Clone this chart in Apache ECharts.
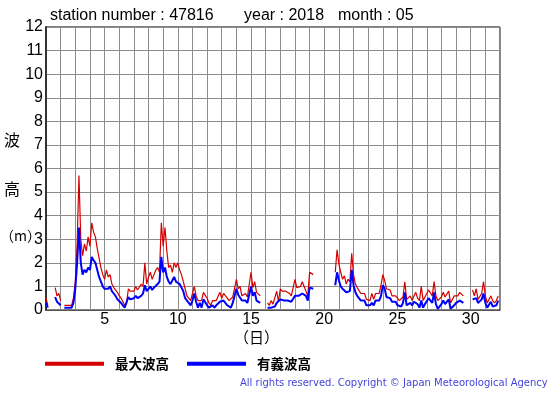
<!DOCTYPE html>
<html><head><meta charset="utf-8">
<script src="https://cdn.jsdelivr.net/npm/echarts@6/dist/echarts.min.js"></script>
<style>html,body{margin:0;padding:0;background:#fff}#c{width:555px;height:395px}</style>
</head><body><div id="c"></div>
<script>
// 3-hourly samples, 8 per day, starting at day 1.000 (null = missing)
const startDay = 1;
const stepsPerDay = 8;
const maxWave = [
 0.5,0.2,null,null,null,0.95,0.6,0.7,
 0.4,null,0.2,0.15,0.2,0.15,0.2,0.5,
 1.2,2.8,5.7,3.0,2.3,2.8,2.5,3.1,
 2.7,3.7,3.3,3.1,2.6,2.2,1.8,1.5,
 1.3,1.7,1.4,1.5,1.1,0.95,1.0,0.75,
 0.6,0.5,0.35,0.2,0.3,0.9,0.8,0.85,
 0.8,1.0,0.85,0.9,1.1,1.0,2.0,1.1,
 1.4,1.6,1.3,1.5,1.7,1.8,1.6,3.7,
 2.7,3.5,2.5,1.8,1.9,1.6,2.0,1.8,
 2.0,1.7,1.5,1.2,0.9,0.6,0.55,0.4,
 0.7,1.0,0.6,0.4,0.45,0.4,0.75,0.7,
 0.5,0.3,0.2,0.4,0.35,0.4,0.45,0.75,
 0.5,0.7,0.75,0.5,0.4,0.35,0.55,0.5,
 1.3,0.9,1.0,0.6,0.65,0.7,0.55,0.6,
 1.6,0.95,1.2,0.75,0.8,0.6,null,null,
 null,0.3,0.2,0.4,0.25,0.3,0.8,0.35,
 0.9,0.8,0.75,0.8,0.8,0.7,0.6,0.65,
 1.3,0.95,0.9,1.0,1.2,1.0,0.95,0.6,
 1.6,1.55,1.5,null,null,null,null,null,
 null,null,null,null,null,null,1.6,2.55,
 1.95,1.6,1.3,1.45,1.1,1.3,1.2,2.4,
 1.5,1.1,0.95,0.9,0.7,0.75,0.7,0.45,
 0.45,0.4,0.7,0.45,0.7,0.75,0.7,1.05,
 1.5,1.25,0.9,0.95,0.85,0.6,0.65,0.6,
 0.5,0.4,0.35,0.55,1.2,0.45,0.4,0.6,
 0.4,0.6,0.75,0.5,0.4,1.0,0.4,0.55,
 0.6,0.85,0.9,0.6,1.2,0.6,0.4,0.35,
 0.55,0.75,0.55,0.5,0.8,0.3,0.35,0.6,
 0.65,0.6,0.75,0.8,0.6,null,null,null,
 null,0.85,0.6,0.9,0.45,0.5,0.7,1.2,
 0.6,0.3,0.35,0.6,0.4,0.3,0.4,0.6
];
const sigWave = [
 0.3,0.1,null,null,null,0.55,0.35,0.4,
 0.2,null,0.1,0.05,0.1,0.1,0.1,0.3,
 0.9,2.0,3.5,2.0,1.5,1.7,1.6,1.8,
 1.7,2.25,2.1,2.0,1.7,1.4,1.2,1.0,
 0.9,0.95,0.9,1.0,0.8,0.7,0.6,0.45,
 0.4,0.3,0.2,0.1,0.15,0.55,0.45,0.5,
 0.5,0.6,0.5,0.45,0.6,0.7,1.05,0.8,
 0.9,1.0,0.85,0.95,1.0,1.1,1.2,2.25,
 1.6,1.8,1.4,1.2,1.1,1.1,1.4,1.2,
 1.2,1.1,1.05,0.8,0.5,0.4,0.3,0.2,
 0.4,0.7,0.35,0.1,0.3,0.1,0.45,0.4,
 0.2,0.1,0.05,0.2,0.1,0.2,0.25,0.35,
 0.3,0.4,0.45,0.2,0.15,0.1,0.3,0.25,
 0.9,0.65,0.7,0.4,0.35,0.4,0.3,0.35,
 1.0,0.6,0.75,0.4,0.45,0.3,null,null,
 null,0.1,0.1,0.1,0.1,0.15,0.3,0.25,
 0.45,0.45,0.4,0.45,0.4,0.4,0.35,0.35,
 0.6,0.55,0.6,0.55,0.7,0.65,0.6,0.4,
 0.95,0.9,0.9,null,null,null,null,null,
 null,null,null,null,null,null,1.05,1.6,
 1.25,1.0,0.9,0.9,0.75,0.8,0.8,1.7,
 1.05,0.75,0.6,0.6,0.4,0.45,0.4,0.2,
 0.2,0.2,0.3,0.2,0.4,0.45,0.4,0.6,
 1.05,0.9,0.55,0.6,0.5,0.35,0.4,0.35,
 0.2,0.2,0.15,0.3,0.75,0.2,0.15,0.3,
 0.2,0.35,0.3,0.25,0.1,0.4,0.1,0.25,
 0.3,0.5,0.4,0.3,0.75,0.25,0.05,0.0,
 0.25,0.4,0.25,0.2,0.45,0.05,0.05,0.2,
 0.3,0.3,0.4,0.45,0.3,null,null,null,
 null,0.45,0.45,0.5,0.3,0.3,0.45,0.7,
 0.3,0.1,0.1,0.35,0.15,0.1,0.2,0.4
];
const xTickLabels = [5,10,15,20,25,30];
const yTicks = [0,1,2,3,4,5,6,7,8,9,10,11,12];

function toPairs(arr){ return arr.map((v,i)=>[startDay + i/stepsPerDay, v]); }

const chart = echarts.init(document.getElementById('c'), null, {renderer:'canvas'});
const txt = {fontFamily:'Liberation Sans, Arial, sans-serif', fill:'#000'};
chart.setOption({
  animation:false,
  backgroundColor:'#fff',
  grid:{left:46,right:55,top:27,bottom:85,show:true,borderColor:'#000',borderWidth:1},
  xAxis:{type:'value',min:1,max:32,interval:1,
    axisLine:{show:true,lineStyle:{color:'#555',width:1}},
    axisTick:{show:false},
    splitLine:{show:true,lineStyle:{color:'#8c8c8c',width:1}},
    axisLabel:{fontSize:16,margin:2,color:'#000',fontFamily:'Liberation Sans, Arial, sans-serif',
      formatter:v=> xTickLabels.indexOf(v)>=0 ? String(v) : ''}},
  yAxis:{type:'value',min:0,max:12,interval:1,
    axisLine:{show:true,lineStyle:{color:'#333',width:2}},
    axisTick:{show:false},
    splitLine:{show:true,lineStyle:{color:'#8c8c8c',width:1}},
    axisLabel:{fontSize:16,margin:3,color:'#000',fontFamily:'Liberation Sans, Arial, sans-serif',
      formatter:v=> yTicks.indexOf(v)>=0 ? String(v) : ''}},
  legend:{left:40,top:352,itemWidth:59,itemHeight:4,itemGap:18,icon:'rect',
    textStyle:{fontSize:13.5,fontWeight:'bold',color:'#000',fontFamily:'Noto Sans CJK JP',padding:[0,0,0,6]},
    data:['最大波高','有義波高']},
  series:[
    {name:'最大波高',type:'line',data:toPairs(maxWave),showSymbol:false,connectNulls:false,
      lineStyle:{color:'#d40000',width:1.2},itemStyle:{color:'#d40000'},z:2},
    {name:'有義波高',type:'line',data:toPairs(sigWave),showSymbol:false,connectNulls:false,
      lineStyle:{color:'#0000ff',width:2},itemStyle:{color:'#0000ff'},z:3}
  ],
  graphic:[
    {type:'text',left:50,top:8,style:Object.assign({text:'station number : 47816',fontSize:16},txt)},
    {type:'text',left:244,top:8,style:Object.assign({text:'year : 2018',fontSize:16},txt)},
    {type:'text',left:338,top:8,style:Object.assign({text:'month : 05',fontSize:16},txt)},
    {type:'text',left:4,top:132,style:{text:'波',fontSize:16,fill:'#000',fontFamily:'Noto Sans CJK JP'}},
    {type:'text',left:4,top:181,style:{text:'高',fontSize:16,fill:'#000',fontFamily:'Noto Sans CJK JP'}},
    {type:'text',left:0,top:229,style:{text:'（m）',fontSize:14,fill:'#000',fontFamily:'Noto Sans CJK JP'}},
    {type:'text',left:234,top:330,style:{text:'（日）',fontSize:15,fill:'#000',fontFamily:'Noto Sans CJK JP'}},
    {type:'text',left:240,top:378,style:{text:'All rights reserved. Copyright © Japan Meteorological Agency',fontSize:10,fill:'#4444dd',fontFamily:'DejaVu Sans'}}
  ]
});
</script></body></html>
